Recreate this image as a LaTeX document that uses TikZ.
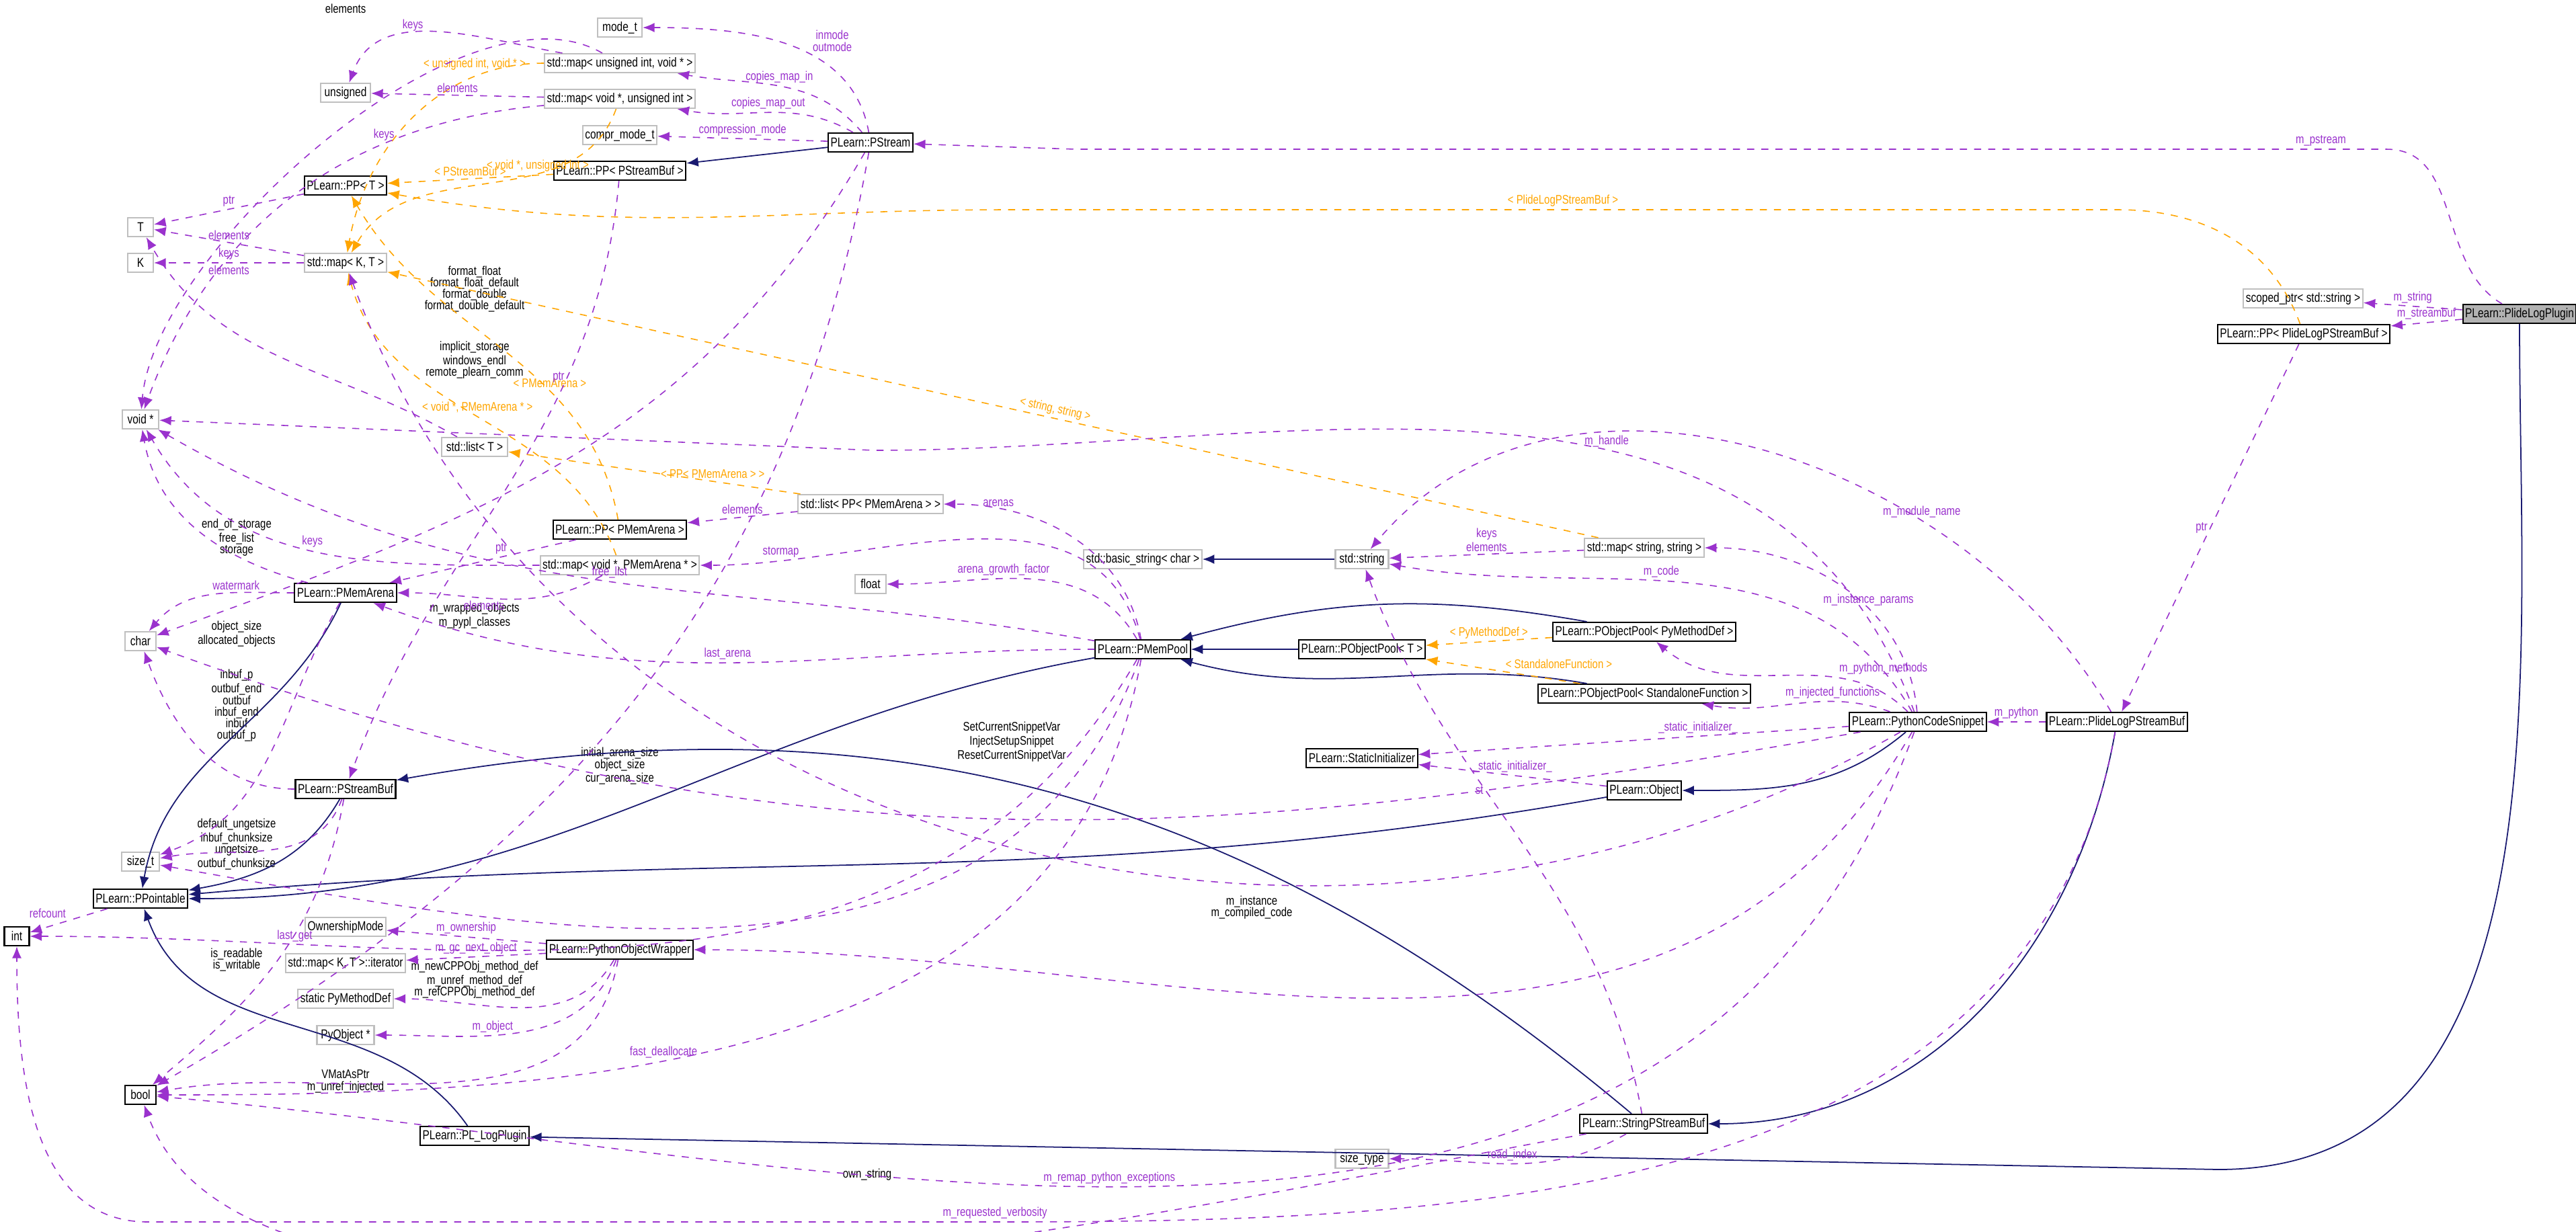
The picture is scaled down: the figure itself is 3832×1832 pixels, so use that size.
\documentclass[tikz,border=0pt]{standalone}
\usepackage{fontspec}
\setmainfont{Liberation Sans}[FakeStretch=0.8]
\usetikzlibrary{arrows.meta}

\definecolor{usecol}{HTML}{9A32CD}
\definecolor{tmplcol}{HTML}{FFA500}
\definecolor{inhcol}{HTML}{191970}

\tikzset{
  box/.style={draw, inner sep=1pt, minimum height=0.28cm, font=\fontsize{5.5}{5.5}\selectfont},
  cls/.style={box, draw=black, line width=0.6pt},
  ext/.style={box, draw=black!25, line width=0.6pt},
  cur/.style={cls, fill=black!30},
  lbl/.style={font=\fontsize{5.3}{4.9}\selectfont, align=center, inner sep=1pt},
  use/.style={usecol, dashed, line width=0.45pt, -{Latex[length=5pt,width=4pt]}},
  tmpl/.style={tmplcol, dashed, line width=0.45pt, -{Latex[length=5pt,width=4pt]}},
  inh/.style={inhcol, line width=0.5pt, -{Latex[length=5pt,width=4pt]}}
}

\begin{document}
\begin{tikzpicture}[x=0.01cm, y=-0.01cm]
\useasboundingbox (0,0) rectangle (3832,1832);

% ----------------------------------------------------------
% Left column: basic types
% ----------------------------------------------------------
\node[ext, minimum width=0.38cm] (T) at (209,338) {T};
\node[ext, minimum width=0.38cm] (K) at (209,391) {K};
\node[ext, minimum width=0.54cm] (voidp) at (209,624) {void *};
\node[ext, minimum width=0.46cm] (char) at (209,954) {char};
\node[ext, minimum width=0.56cm] (sizet) at (209,1282) {size\_t};
\node[cls, minimum width=1.33cm] (ppointable) at (209,1337) {PLearn::PPointable};
\node[cls, minimum width=0.37cm] (int) at (25,1393) {int};
\node[cls, minimum width=0.46cm] (bool) at (209,1629) {bool};

% ----------------------------------------------------------
% Second column
% ----------------------------------------------------------
\node[ext, minimum width=0.74cm] (unsig) at (514,138) {unsigned};
\node[cls, minimum width=1.22cm] (ppt) at (514,276) {PLearn::PP< T >};
\node[ext, minimum width=1.22cm] (mapkt) at (514,391) {std::map< K, T >};
\node[cls, minimum width=1.43cm] (pmemarena) at (514,882) {PLearn::PMemArena};
\node[cls, minimum width=1.43cm] (pstreambuf) at (514,1174) {PLearn::PStreamBuf};
\node[ext, minimum width=1.15cm] (ownmode) at (514,1379) {OwnershipMode};
\node[ext, minimum width=1.70cm] (mapiter) at (514,1433) {std::map< K, T >::iterator};
\node[ext, minimum width=1.37cm] (staticpy) at (514,1486) {static PyMethodDef};
\node[ext, minimum width=0.85cm] (pyobj) at (514,1540) {PyObject *};
\node[ext, minimum width=0.98cm] (listt) at (706,665) {std::list< T >};
\node[cls, minimum width=1.51cm] (pllog) at (706,1690) {PLearn::PL\_LogPlugin};

% ----------------------------------------------------------
% Third column
% ----------------------------------------------------------
\node[ext, minimum width=0.66cm] (modet) at (922,41) {mode\_t};
\node[ext, minimum width=2.08cm] (mapuv) at (922,94) {std::map< unsigned int, void * >};
\node[ext, minimum width=2.08cm] (mapvu) at (922,147) {std::map< void *, unsigned int >};
\node[ext, minimum width=1.08cm] (comprmode) at (922,201) {compr\_mode\_t};
\node[cls, minimum width=1.84cm] (ppsbuf) at (922,254) {PLearn::PP< PStreamBuf >};
\node[cls, minimum width=1.84cm] (pppmem) at (922,788) {PLearn::PP< PMemArena >};
\node[ext, minimum width=2.18cm] (mapvpm) at (922,841) {std::map< void *, PMemArena * >};
\node[cls, minimum width=1.98cm] (pow) at (922,1413) {PLearn::PythonObjectWrapper};
\node[cls, minimum width=1.23cm] (pstream) at (1295,212) {PLearn::PStream};
\node[ext, minimum width=2.02cm] (listpp) at (1295,750) {std::list< PP< PMemArena > >};
\node[ext, minimum width=0.46cm] (float) at (1295,869) {float};

% ----------------------------------------------------------
% Middle and right
% ----------------------------------------------------------
\node[ext, minimum width=1.67cm] (basicstr) at (1700,832) {std::basic\_string< char >};
\node[cls, minimum width=1.35cm] (pmempool) at (1700,966) {PLearn::PMemPool};
\node[ext, minimum width=0.79cm] (stdstr) at (2026,832) {std::string};
\node[cls, minimum width=1.76cm] (popt) at (2026,966) {PLearn::PObjectPool< T >};
\node[cls, minimum width=1.57cm] (staticinit) at (2026,1128) {PLearn::StaticInitializer};
\node[ext, minimum width=0.79cm] (sizetype) at (2026,1724) {size\_type};
\node[ext, minimum width=1.69cm] (mapss) at (2446,815) {std::map< string, string >};
\node[cls, minimum width=2.46cm] (poppy) at (2446,940) {PLearn::PObjectPool< PyMethodDef >};
\node[cls, minimum width=2.82cm] (popsf) at (2446,1032) {PLearn::PObjectPool< StandaloneFunction >};
\node[cls, minimum width=1.07cm] (object) at (2446,1176) {PLearn::Object};
\node[cls, minimum width=1.76cm] (strbuf) at (2445,1672) {PLearn::StringPStreamBuf};
\node[cls, minimum width=1.87cm] (pcs) at (2853,1074) {PLearn::PythonCodeSnippet};
\node[cls, minimum width=1.92cm] (plbuf) at (3149,1074) {PLearn::PlideLogPStreamBuf};
\node[ext, minimum width=1.67cm] (scoped) at (3426,444) {scoped\_ptr< std::string >};
\node[cls, minimum width=2.34cm] (ppplbuf) at (3427,497) {PLearn::PP< PlideLogPStreamBuf >};
\node[cur, minimum width=1.56cm] (plplugin) at (3748,467) {PLearn::PlideLogPlugin};

% ----------------------------------------------------------
% Member labels placed on their own
% ----------------------------------------------------------
\node[lbl] (elemlbl) at (514,13) {elements};
\node[lbl, tmplcol] (uvlbl) at (706,96) {< unsigned int, void * >};
\node[lbl] (fmtlbl) at (706,430) {format\_float\\format\_float\_default\\format\_double\\format\_double\_default};
\node[lbl] (implbl) at (706,536) {implicit\_storage\\windows\_endl\\remote\_plearn\_comm};
\node[lbl] (storlbl) at (352,800) {end\_of\_storage\\free\_list\\storage};
\node[lbl] (objlbl) at (352,943) {object\_size\\allocated\_objects};
\node[lbl] (wraplbl) at (706,916) {m\_wrapped\_objects\\m\_pypl\_classes};
\node[lbl] (buflbl) at (352,1050) {inbuf\_p\\outbuf\_end\\outbuf\\inbuf\_end\\inbuf\\outbuf\_p};
\node[lbl] (sizelbl) at (352,1256) {default\_ungetsize\\inbuf\_chunksize\\ungetsize\\outbuf\_chunksize};
\node[lbl] (arenalbl) at (922,1140) {initial\_arena\_size\\object\_size\\cur\_arena\_size};
\node[lbl] (snipplbl) at (1505,1104) {SetCurrentSnippetVar\\InjectSetupSnippet\\ResetCurrentSnippetVar};
\node[lbl] (rwlbl) at (352,1428) {is\_readable\\is\_writable};
\node[lbl] (methlbl) at (706,1458) {m\_newCPPObj\_method\_def\\m\_unref\_method\_def\\m\_refCPPObj\_method\_def};
\node[lbl] (vmatlbl) at (514,1609) {VMatAsPtr\\m\_unref\_injected};
\node[lbl] (instlbl) at (1862,1350) {m\_instance\\m\_compiled\_code};
\node[lbl] (ownlbl) at (1290,1748) {own\_string};

% ----------------------------------------------------------
% Inheritance
% ----------------------------------------------------------
\draw[inh] (pstream) -- (ppsbuf);
\draw[inh] (pmemarena) to[out=-115,in=80] (ppointable);
\draw[inh] (pstreambuf) to[out=-120,in=10] (ppointable);
\draw[inh] (pmempool) to[out=190,in=0] (ppointable);
\draw[inh] (object) to[out=190,in=5] (ppointable);
\draw[inh] (pllog) to[out=125,in=-70] (ppointable);
\draw[inh] (stdstr) -- (basicstr);
\draw[inh] (popt) -- (pmempool);
\draw[inh] (poppy) to[out=170,in=15] (pmempool);
\draw[inh] (popsf) to[out=170,in=-15] (pmempool);
\draw[inh] (pcs) to[out=-140,in=0] (object);
\draw[inh] (strbuf) to[out=140,in=10] (pstreambuf);
\draw[inh] (plbuf) to[out=-100,in=0] (strbuf);
\draw[inh] (plplugin) to[out=-90,in=0] (3300,1740) -- (pllog);

% ----------------------------------------------------------
% Template instances
% ----------------------------------------------------------
\draw[tmpl] (ppsbuf) -- node[lbl, above] {< PStreamBuf >} (ppt);
\draw[tmpl] (ppplbuf) to[out=110,in=0] (3150,312) -- node[lbl, above] {< PlideLogPStreamBuf >} (1500,312) to[out=180,in=-10] (ppt);
\draw[tmpl] (pppmem) to[out=100,in=-60] node[lbl, pos=0.35, above] {< PMemArena >} (ppt);
\draw[tmpl] (mapuv) to[out=180,in=80] (mapkt);
\draw[tmpl] (mapvu) to[out=-110,in=60] node[lbl, pos=0.35, above] {< void *, unsigned int >} (mapkt);
\draw[tmpl] (mapvpm) to[out=110,in=-75] node[lbl, pos=0.5, above] {< void *, PMemArena * >} (mapkt);
\draw[tmpl] (mapss) -- node[lbl, pos=0.45, above, sloped] {< string, string >} (mapkt);
\draw[tmpl] (listpp) -- node[lbl, pos=0.3, above] {< PP< PMemArena > >} (listt);
\draw[tmpl] (poppy) -- node[lbl, above] {< PyMethodDef >} (popt);
\draw[tmpl] (popsf) -- node[lbl, above right] {< StandaloneFunction >} (popt);

% ----------------------------------------------------------
% Usage
% ----------------------------------------------------------
\draw[use] (pstream) to[out=100,in=0] node[lbl, pos=0.4, above right] {inmode\\outmode} (modet);
\draw[use] (pstream) to[out=130,in=-10] node[lbl, pos=0.5, above] {copies\_map\_in} (mapuv);
\draw[use] (pstream) to[out=150,in=-10] node[lbl, pos=0.5, above] {copies\_map\_out} (mapvu);
\draw[use] (pstream) -- node[lbl, above] {compression\_mode} (comprmode);
\draw[use] (pstream) to[out=-120,in=20] (char);
\draw[use] (pstream) to[out=-100,in=30] (bool);
\draw[use] (ppsbuf) to[out=-95,in=70] node[lbl, pos=0.3, left] {ptr} (pstreambuf);
\draw[use] (mapuv) to[out=170,in=70] node[lbl, pos=0.6, above] {keys} (unsig);
\draw[use] (mapuv) to[out=150,in=85, looseness=0.7] (voidp);
\draw[use] (mapvu) -- node[lbl, above] {elements} (unsig);
\draw[use] (mapvu) to[out=185,in=70] node[lbl, pos=0.3, above] {keys} (voidp);
\draw[use] (ppt) -- node[lbl, above] {ptr} (T);
\draw[use] (mapkt) -- node[lbl, above] {elements} (T);
\draw[use] (mapkt) -- node[lbl, above] {keys} node[lbl, below] {elements} (K);
\draw[use] (listt) to[out=150,in=-60] (T);
\draw[use] (listpp) -- node[lbl, above] {elements} (pppmem);
\draw[use] (pppmem) -- node[lbl, above, pos=0.4] {ptr} (pmemarena);
\draw[use] (mapvpm) to[out=-150,in=0] node[lbl, below, pos=0.6] {elements} (pmemarena);
\draw[use] (mapvpm) to[out=180,in=-60] node[lbl, pos=0.5, above] {keys} (voidp);
\draw[use] (pmemarena) to[out=165,in=-80] (voidp);
\draw[use] (pmemarena) to[out=180,in=50] node[lbl, above, pos=0.35] {watermark} (char);
\draw[use] (pmemarena) to[out=-120,in=20] (sizet);
\draw[use] (pstreambuf) to[out=180,in=-70] (char);
\draw[use] (pstreambuf) to[out=-110,in=10] (sizet);
\draw[use] (pstreambuf) to[out=-100,in=40] (bool);
\draw[use] (ppointable) -- node[lbl, above left] {refcount} (int);
\draw[use] (pmempool) to[out=100,in=0] node[lbl, pos=0.8, above] {arenas} (listpp);
\draw[use] (pmempool) to[out=105,in=0] node[lbl, pos=0.85, above] {stormap} (mapvpm);
\draw[use] (pmempool) to[out=120,in=0] node[lbl, pos=0.6, above] {arena\_growth\_factor} (float);
\draw[use] (pmempool) to[out=170,in=-30] node[lbl, pos=0.5, above] {free\_list} (voidp);
\draw[use] (pmempool) to[out=180,in=-20] node[lbl, pos=0.5, above] {last\_arena} (pmemarena);
\draw[use] (pmempool) to[out=-110,in=-10] (sizet);
\draw[use] (pmempool) to[out=-100,in=0] node[lbl, pos=0.6, above] {fast\_deallocate} (bool);
\draw[use] (pmempool) to[out=-120,in=0] node[lbl, pos=0.8, above] {last\_get} (int);
\draw[use] (mapss) -- node[lbl, above] {keys\\elements} (stdstr);
\draw[use] (pcs) to[out=110,in=0] node[lbl, pos=0.4, above] {m\_handle} (1300,670) -- (voidp);
\draw[use] (pcs) to[out=95,in=0] node[lbl, pos=0.4, above] {m\_instance\_params} (mapss);
\draw[use] (pcs) to[out=120,in=-10] node[lbl, pos=0.55, above] {m\_code} (stdstr);
\draw[use] (pcs) to[out=135,in=-40] node[lbl, pos=0.3, above right] {m\_python\_methods} (poppy);
\draw[use] (pcs) to[out=160,in=-10] node[lbl, pos=0.3, above] {m\_injected\_functions} (popsf);
\draw[use] (pcs) -- node[lbl, pos=0.35, above] {\_static\_initializer\_} (staticinit);
\draw[use] (object) -- node[lbl, above] {\_static\_initializer\_} (staticinit);
\draw[use] (pcs) to[out=-170,in=-20] (char);
\draw[use] (pcs) to[out=-150,in=-70] (mapkt);
\draw[use] (pcs) to[out=-120,in=0] (pow);
\draw[use] (pcs) to[out=-110,in=-5] node[lbl, pos=0.55, above] {m\_remap\_python\_exceptions} (bool);
\draw[use] (plbuf) -- node[lbl, above] {m\_python} (pcs);
\draw[use] (plbuf) to[out=120,in=50] node[lbl, pos=0.3, above] {m\_module\_name} (stdstr);
\draw[use] (plbuf) to[out=-100,in=0] (1480,1818) node[lbl, above] {m\_requested\_verbosity} to (220,1818) to[out=180,in=-90] (int);
\draw[use] (strbuf) to[out=100,in=-70] node[lbl, pos=0.6, left] {st} (stdstr);
\draw[use] (strbuf) to[out=-150,in=0] node[lbl, above] {read\_index} (sizetype);
\draw[use] (strbuf) to[out=190,in=-70, looseness=0.6] (bool);
\draw[use] (pow) -- node[lbl, above] {m\_ownership} (ownmode);
\draw[use] (pow) -- node[lbl, above] {m\_gc\_next\_object} (mapiter);
\draw[use] (pow) to[out=-120,in=0] (staticpy);
\draw[use] (pow) to[out=-110,in=0] node[lbl, pos=0.6, above] {m\_object} (pyobj);
\draw[use] (pow) to[out=-100,in=10] (bool);
\draw[use] (plplugin) to[out=150,in=0] (3550,222) -- node[lbl, pos=0.05, above] {m\_pstream} (1600,222) -- (pstream);
\draw[use] (plplugin) -- node[lbl, above] {m\_string} (scoped);
\draw[use] (plplugin) -- node[lbl, above] {m\_streambuf} (ppplbuf);
\draw[use] (ppplbuf) -- node[lbl, left] {ptr} (plbuf);

\end{tikzpicture}
\end{document}
